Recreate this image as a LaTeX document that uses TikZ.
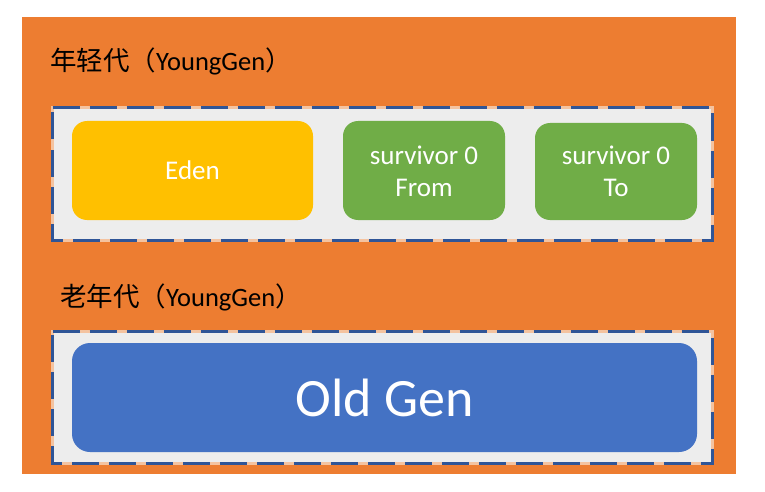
\documentclass[tikz,border=0pt]{standalone}
\usepackage{fontspec}
\setmainfont{Carlito}
\newfontfamily\cjk{Noto Sans CJK SC}
\definecolor{bgorange}{HTML}{ED7D31}
\definecolor{panelgray}{HTML}{EDEDED}
\definecolor{dashblue}{HTML}{2F5597}
\definecolor{gappeach}{HTML}{F4C3A0}
\definecolor{edenyellow}{HTML}{FFC000}
\definecolor{survgreen}{HTML}{70AD47}
\definecolor{oldblue}{HTML}{4472C4}
\tikzset{
  panel/.style={fill=panelgray, draw=gappeach, line width=3pt},
  paneldash/.style={draw=dashblue, line width=3pt, dash pattern=on 27pt off 10pt},
  space/.style={text=white, font=\fontsize{27}{32}\selectfont, align=center},
  label/.style={anchor=base west, font=\fontsize{26.5}{32}\selectfont, text=black, inner sep=0pt}
}
\begin{document}
\begin{tikzpicture}[x=1pt,y=-1pt]
\useasboundingbox (0,0) rectangle (765,492);
% background
\fill[bgorange] (22,17) rectangle (736,474);
% labels
\node[label] (younglabel) at (50,71) {{\cjk 年轻代（}YoungGen{\cjk ）}};
\node[label] (oldlabel) at (60,306.5) {{\cjk 老年代（}YoungGen{\cjk ）}};
% young gen panel
\draw[panel] (52.5,107.5) rectangle (712.5,240.5);
\draw[paneldash] (52.5,107.5) -- (712.5,107.5) -- (712.5,240.5) -- (52.5,240.5) -- cycle;
% old gen panel
\draw[panel] (52.5,331.5) rectangle (712.5,463.5);
\draw[paneldash] (52.5,331.5) -- (712.5,331.5) -- (712.5,463.5) -- (52.5,463.5) -- cycle;
% spaces
\fill[edenyellow, rounded corners=15pt] (72,121) rectangle (313,220);
\node[space] (eden) at (192.5,170.5) {Eden};
\fill[survgreen, rounded corners=15pt] (343,121) rectangle (505,220);
\node[space] (from) at (424,171) {survivor 0\\From};
\fill[survgreen, rounded corners=15pt] (535,123) rectangle (697,220);
\node[space] (to) at (616,171) {survivor 0\\To};
\fill[oldblue, rounded corners=18pt] (72,343) rectangle (697,452);
\node[space, font=\fontsize{54}{60}\selectfont] (oldgen) at (384.5,398) {Old Gen};
\end{tikzpicture}
\end{document}
